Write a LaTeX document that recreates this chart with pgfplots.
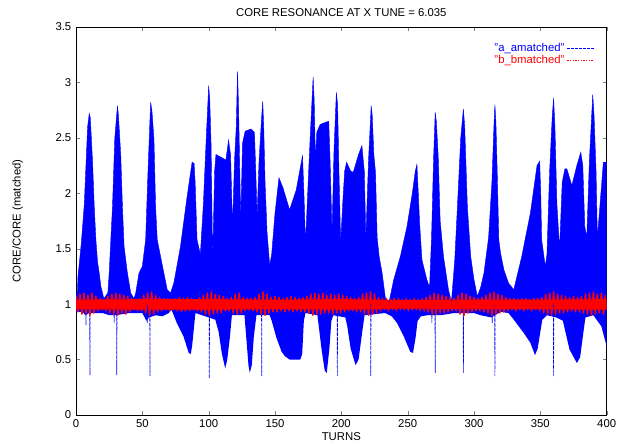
\documentclass[border=0pt]{standalone}
\usepackage{fontspec}
\setmainfont{Liberation Sans}
\usepackage{pgfplots}
\pgfplotsset{compat=1.18}
\usepgfplotslibrary{fillbetween}
\begin{document}
\begin{tikzpicture}
\begin{axis}[
  scale only axis, width=398pt, height=291pt,
  xmin=0, xmax=400, ymin=0, ymax=3.5,
  xtick={0,50,100,150,200,250,300,350,400},
  ytick={0,0.5,1,1.5,2,2.5,3,3.5},
  tick align=inside, major tick length=3pt,
  tick label style={font=\fontsize{8.5}{10}\selectfont},
  /pgf/number format/assume math mode=true,
  title={CORE RESONANCE AT X TUNE = 6.035},
  title style={font=\fontsize{8.5}{10}\selectfont, yshift=-2pt},
  xlabel={TURNS}, ylabel={CORE/CORE (matched)},
  label style={font=\fontsize{8.5}{10}\selectfont},
  xlabel style={yshift=3pt},
  ylabel style={yshift=17.5pt},
  axis line style={line width=0.6pt},
  legend plot pos=right,
  legend cell align=right,
  legend style={at={(rel axis cs:0.985,0.972)}, anchor=north east, draw=none, fill=none,
    font=\fontsize{8.5}{10}\selectfont, row sep=-3pt},
  legend image code/.code={\draw[#1] (0.3cm,0cm) -- (1.0cm,0cm);},
  unbounded coords=jump,
]
% blue envelope (upper / lower)
\addplot[blue, line width=0.3pt, name path=U, forget plot] coordinates {
(0,1.08)(1,1.1)(1.5,1.25)(4,1.55)(6.25,1.9)(8.75,2.6)(10,2.72)(10.8,2.68)(12.5,2.28)
(13.75,1.88)(15,1.58)(16.25,1.38)(17.5,1.28)(18.75,1.16)(21,1.05)(24,1.1)(25,1.28)
(27.5,1.88)(29.25,2.5)(31.25,2.79)(32,2.7)(33.75,2.34)(35,1.88)(36.25,1.52)(38.75,1.28)
(41.25,1.1)(43.75,1.05)(45,1.1)(47.5,1.28)(50,1.34)(52.5,1.58)(54.25,2.19)(56.25,2.82)
(57.2,2.75)(58.75,2.49)(60,1.88)(61.25,1.58)(63.75,1.43)(66.25,1.28)(68.75,1.13)
(71.25,1.1)(73.75,1.19)(78.75,1.52)(83.75,1.97)(87.5,2.28)(89,2.27)(89.8,2.1)(91.25,1.58)
(93.75,1.45)(96,1.9)(98,2.45)(100,2.97)(100.8,2.85)(101.8,2.45)(103,1.4)(104.5,2.2)
(105.5,2.35)(110,2.32)(113,2.3)(115,2.48)(116.5,2.35)(118,1.7)(119.5,2.3)(120.8,2.6)
(121.75,3.1)(122.5,2.8)(123.3,2.3)(124.2,1.75)(125.5,2.45)(127.5,2.56)(132,2.58)
(134.5,2.55)(135.5,2.2)(136.5,1.8)(138,2.3)(140,2.7)(140.75,2.83)(141.5,2.6)(142.5,2.1)
(144,1.65)(146,1.35)(147.5,1.45)(150,1.82)(153,2.14)(156,2.05)(161,1.85)(166,2.03)
(170.75,2.34)(171.8,2.0)(173,1.55)(175,2.1)(176.5,2.5)(178.75,3.05)(179.5,2.85)(180.5,2.3)
(181.5,2.55)(184,2.62)(188,2.64)(190.5,2.65)(191.5,2.3)(193,1.65)(194.5,2.4)(196.25,2.91)
(197.2,2.8)(198.2,2.2)(199.5,1.55)(201,1.9)(202.5,2.2)(204,2.28)(207,2.2)(209,2.19)
(213,2.35)(215.5,2.43)(217.3,2.2)(218.5,1.6)(220.5,2.3)(222.5,2.79)(223.3,2.7)(224.5,2.35)
(225.75,2.19)(227,1.6)(228.5,1.43)(230.75,1.28)(233.25,1.05)(236,1.02)(239.5,1.22)
(244.5,1.43)(249.5,1.7)(253.5,2.0)(255.75,2.2)(257,2.26)(258,2.0)(259,1.73)(260.75,1.4)
(264.5,1.22)(266.5,1.15)(268,1.6)(269.5,2.3)(270.75,2.73)(271.6,2.65)(273,2.34)(274.5,1.75)
(277,1.43)(280.75,1.13)(283,1.02)(285.5,1.4)(288,2.0)(290,2.5)(292,2.76)(293,2.6)(295,1.88)
(297.5,1.43)(300,1.22)(302.5,1.07)(305,1.15)(307.5,1.28)(311,1.6)(313.5,2.1)(315,2.6)
(315.75,2.8)(316.5,2.65)(317.5,2.19)(318.7,1.58)(320,1.46)(322.5,1.31)(326,1.19)(330,1.13)
(336,1.43)(342.5,1.82)(347.5,2.25)(349.5,2.29)(350.3,2.0)(351,1.58)(353.75,1.34)(355,1.45)
(357,2.2)(359,2.7)(360,2.86)(361,2.6)(362.5,1.9)(364.5,1.5)(366.5,2.1)(368.5,2.22)(370,2.22)
(373.75,2.07)(377.5,2.25)(380.5,2.37)(382,2.25)(383.5,1.7)(385,1.6)(387,2.3)(389.5,2.89)
(390.5,2.7)(392,2.2)(393,1.6)(395,1.9)(397.5,2.28)(400,2.28)
};
\addplot[draw=none, name path=L, forget plot] coordinates {
(0,0.93)(5,0.93)(7,0.9)(10,0.92)(20,0.92)(25,0.9)(30,0.9)(40,0.92)(50,0.92)(53,0.85)
(55,0.88)(60,0.9)(65,0.89)(70,0.92)(72,0.95)(76,0.83)(81,0.71)(85,0.56)(86.5,0.55)
(87.5,0.62)(89,0.8)(90,0.92)(95,0.9)(100,0.88)(105,0.86)(107.5,0.75)(110,0.55)(112.5,0.42)
(114,0.5)(116,0.7)(117.5,0.9)(127,0.9)(128,0.75)(130,0.45)(131,0.38)(132.5,0.45)(134,0.7)
(136,0.9)(146,0.9)(147.5,0.85)(151,0.7)(155,0.57)(157.5,0.53)(161,0.5)(169,0.5)(170.5,0.55)
(171.75,0.85)(173,0.92)(182,0.9)(182.5,0.85)(185,0.6)(187.5,0.4)(189,0.38)(191,0.6)
(192.5,0.85)(194,0.9)(203,0.88)(204.5,0.8)(207,0.6)(210.75,0.45)(213,0.5)(215.75,0.75)
(217.5,0.9)(233,0.92)(238,0.89)(242,0.83)(247,0.71)(252,0.57)(254,0.56)(256,0.7)(257.5,0.85)
(260,0.89)(265,0.9)(275,0.9)(285,0.92)(300,0.92)(305,0.9)(313,0.88)(320,0.93)(326,0.92)
(330,0.86)(337.5,0.74)(342.5,0.65)(346,0.54)(348,0.6)(350,0.75)(351.5,0.86)(355,0.9)
(362,0.88)(367,0.85)(372,0.59)(377.5,0.47)(380,0.52)(382.5,0.75)(384,0.88)(390,0.9)
(396,0.8)(400,0.62)
};
\addplot[blue, forget plot] fill between[of=U and L];
% blue narrow drop-outs
\addplot[blue, line width=0.5pt, dash pattern=on 2.5pt off 1pt, forget plot] coordinates {
(10.35,1)(10.5,0.36)(10.65,1)(10.7,nan)
(30.6,1)(30.75,0.36)(30.9,1)(31,nan)
(55.6,1)(55.75,0.35)(55.9,1)(56,nan)
(100.35,1)(100.5,0.33)(100.65,1)(100.7,nan)
(139.85,1)(140,0.35)(140.15,1)(140.2,nan)
(196.85,1)(197,0.35)(197.15,1)(197.2,nan)
(222.05,1)(222.2,0.35)(222.35,1)(222.4,nan)
(270.6,1)(270.75,0.38)(270.9,1)(271,nan)
(291.85,1)(292,0.38)(292.15,1)(292.2,nan)
(315.6,1)(315.75,0.35)(315.9,1)(316,nan)
(359.85,1)(360,0.35)(360.15,1)(360.2,nan)
(7.35,1)(7.5,0.81)(7.65,1)(7.7,nan)
(28.6,1)(28.75,0.83)(28.9,1)(29,nan)
(53.6,1)(53.75,0.83)(53.9,1)(54,nan)
(268.1,1)(268.25,0.83)(268.4,1)(268.5,nan)
(313.6,1)(313.75,0.83)(313.9,1)
};
% red core band
\addplot[draw=none, name path=RU, forget plot] coordinates {
(0,1.04)(50,1.045)(100,1.045)(150,1.04)(200,1.045)(250,1.035)(300,1.04)(350,1.04)(400,1.045)
};
\addplot[draw=none, name path=RL, forget plot] coordinates {
(0,0.955)(50,0.95)(100,0.95)(150,0.955)(200,0.95)(250,0.96)(300,0.955)(350,0.955)(400,0.95)
};
\addplot[red, forget plot] fill between[of=RU and RL];
% red series
\addplot[red, line width=1.1pt, line join=round, forget plot] coordinates {
(0,1.07)(1.5,0.93)(3,1.09)(4.5,0.91)(6,1.10)(7.5,0.92)(9,1.08)(10.5,0.90)(12,1.10)(13.5,0.92)
(15,1.07)(16.5,0.94)(18,1.05)(19.5,0.95)(21,1.04)(22.5,0.94)(24,1.07)(25.5,0.92)(27,1.09)
(28.5,0.91)(30,1.10)(31.5,0.90)(33,1.09)(34.5,0.92)(36,1.08)(37.5,0.91)(39,1.07)(40.5,0.93)
(42,1.05)(43.5,0.95)(45,1.04)(46.5,0.94)(48,1.05)(49.5,0.94)(51,1.08)(52.5,0.92)(54,1.10)
(55.5,0.90)(57,1.11)(58.5,0.91)(60,1.08)(61.5,0.93)(63,1.06)(64.5,0.94)(66,1.05)(67.5,0.95)
(69,1.05)(70.5,0.94)(72,1.04)(73.5,0.95)(75,1.05)(76.5,0.94)(78,1.06)(79.5,0.93)(81,1.05)
(82.5,0.94)(84,1.06)(85.5,0.94)(87,1.05)(88.5,0.95)(90,1.04)(91.5,0.94)(93,1.06)(94.5,0.93)
(96,1.08)(97.5,0.91)(99,1.10)(100.5,0.90)(102,1.11)(103.5,0.91)(105,1.09)(106.5,0.92)
(108,1.08)(109.5,0.92)(111,1.07)(112.5,0.94)(114,1.05)(115.5,0.94)(117,1.06)(118.5,0.92)
(120,1.09)(121.5,0.91)(123,1.10)(124.5,0.92)(126,1.06)(127.5,0.94)(129,1.05)(130.5,0.95)
(132,1.05)(133.5,0.94)(135,1.06)(136.5,0.93)(138,1.09)(139.5,0.91)(141,1.11)(142.5,0.90)
(144,1.09)(145.5,0.92)(147,1.06)(148.5,0.93)(150,1.07)(151.5,0.93)(153,1.06)(154.5,0.94)
(156,1.05)(157.5,0.93)(159,1.06)(160.5,0.94)(162,1.07)(163.5,0.93)(165,1.06)(166.5,0.94)
(168,1.05)(169.5,0.93)(171,1.06)(172.5,0.93)(174,1.07)(175.5,0.92)(177,1.09)(178.5,0.90)
(180,1.10)(181.5,0.91)(183,1.09)(184.5,0.91)(186,1.10)(187.5,0.92)(189,1.08)(190.5,0.92)
(192,1.09)(193.5,0.91)(195,1.08)(196.5,0.92)(198,1.09)(199.5,0.92)(201,1.08)(202.5,0.93)
(204,1.07)(205.5,0.94)(207,1.06)(208.5,0.94)(210,1.05)(211.5,0.93)(213,1.06)(214.5,0.93)
(216,1.09)(217.5,0.91)(219,1.10)(220.5,0.90)(222,1.11)(223.5,0.91)(225,1.09)(226.5,0.92)
(228,1.06)(229.5,0.94)(231,1.05)(232.5,0.95)(234,1.05)(235.5,0.94)(237,1.04)(238.5,0.95)
(240,1.05)(241.5,0.94)(243,1.05)(244.5,0.95)(246,1.04)(247.5,0.95)(249,1.05)(250.5,0.94)
(252,1.04)(253.5,0.95)(255,1.05)(256.5,0.95)(258,1.04)(259.5,0.94)(261,1.05)(262.5,0.94)
(264,1.06)(265.5,0.93)(267,1.08)(268.5,0.91)(270,1.10)(271.5,0.91)(273,1.09)(274.5,0.92)
(276,1.08)(277.5,0.92)(279,1.07)(280.5,0.93)(282,1.06)(283.5,0.94)(285,1.05)(286.5,0.94)
(288,1.08)(289.5,0.91)(291,1.10)(292.5,0.90)(294,1.09)(295.5,0.92)(297,1.07)(298.5,0.93)
(300,1.06)(301.5,0.94)(303,1.05)(304.5,0.94)(306,1.06)(307.5,0.93)(309,1.08)(310.5,0.92)
(312,1.10)(313.5,0.90)(315,1.11)(316.5,0.91)(318,1.09)(319.5,0.92)(321,1.08)(322.5,0.93)
(324,1.06)(325.5,0.94)(327,1.05)(328.5,0.95)(330,1.05)(331.5,0.94)(333,1.04)(334.5,0.95)
(336,1.05)(337.5,0.94)(339,1.05)(340.5,0.95)(342,1.04)(343.5,0.94)(345,1.05)(346.5,0.95)
(348,1.05)(349.5,0.94)(351,1.06)(352.5,0.92)(354,1.09)(355.5,0.91)(357,1.10)(358.5,0.90)
(360,1.11)(361.5,0.91)(363,1.09)(364.5,0.92)(366,1.08)(367.5,0.92)(369,1.07)(370.5,0.93)
(372,1.06)(373.5,0.94)(375,1.07)(376.5,0.93)(378,1.06)(379.5,0.93)(381,1.07)(382.5,0.92)
(384,1.09)(385.5,0.91)(387,1.10)(388.5,0.90)(390,1.11)(391.5,0.91)(393,1.09)(394.5,0.92)
(396,1.10)(397.5,0.91)(399,1.08)
};
\addlegendimage{blue, line width=0.6pt, dash pattern=on 2pt off 1pt}
\addlegendentry{\textcolor{blue}{"a\_amatched"}}
\addlegendimage{red, line width=0.6pt, dash pattern=on 1pt off 1pt}
\addlegendentry{\textcolor{red}{"b\_bmatched"}}
\end{axis}
\pgfresetboundingbox
\path[use as bounding box] ([xshift=-57pt,yshift=-21.75pt]current axis.south west)
  rectangle ([xshift=7.75pt,yshift=20.25pt]current axis.north east);
\end{tikzpicture}
\end{document}
